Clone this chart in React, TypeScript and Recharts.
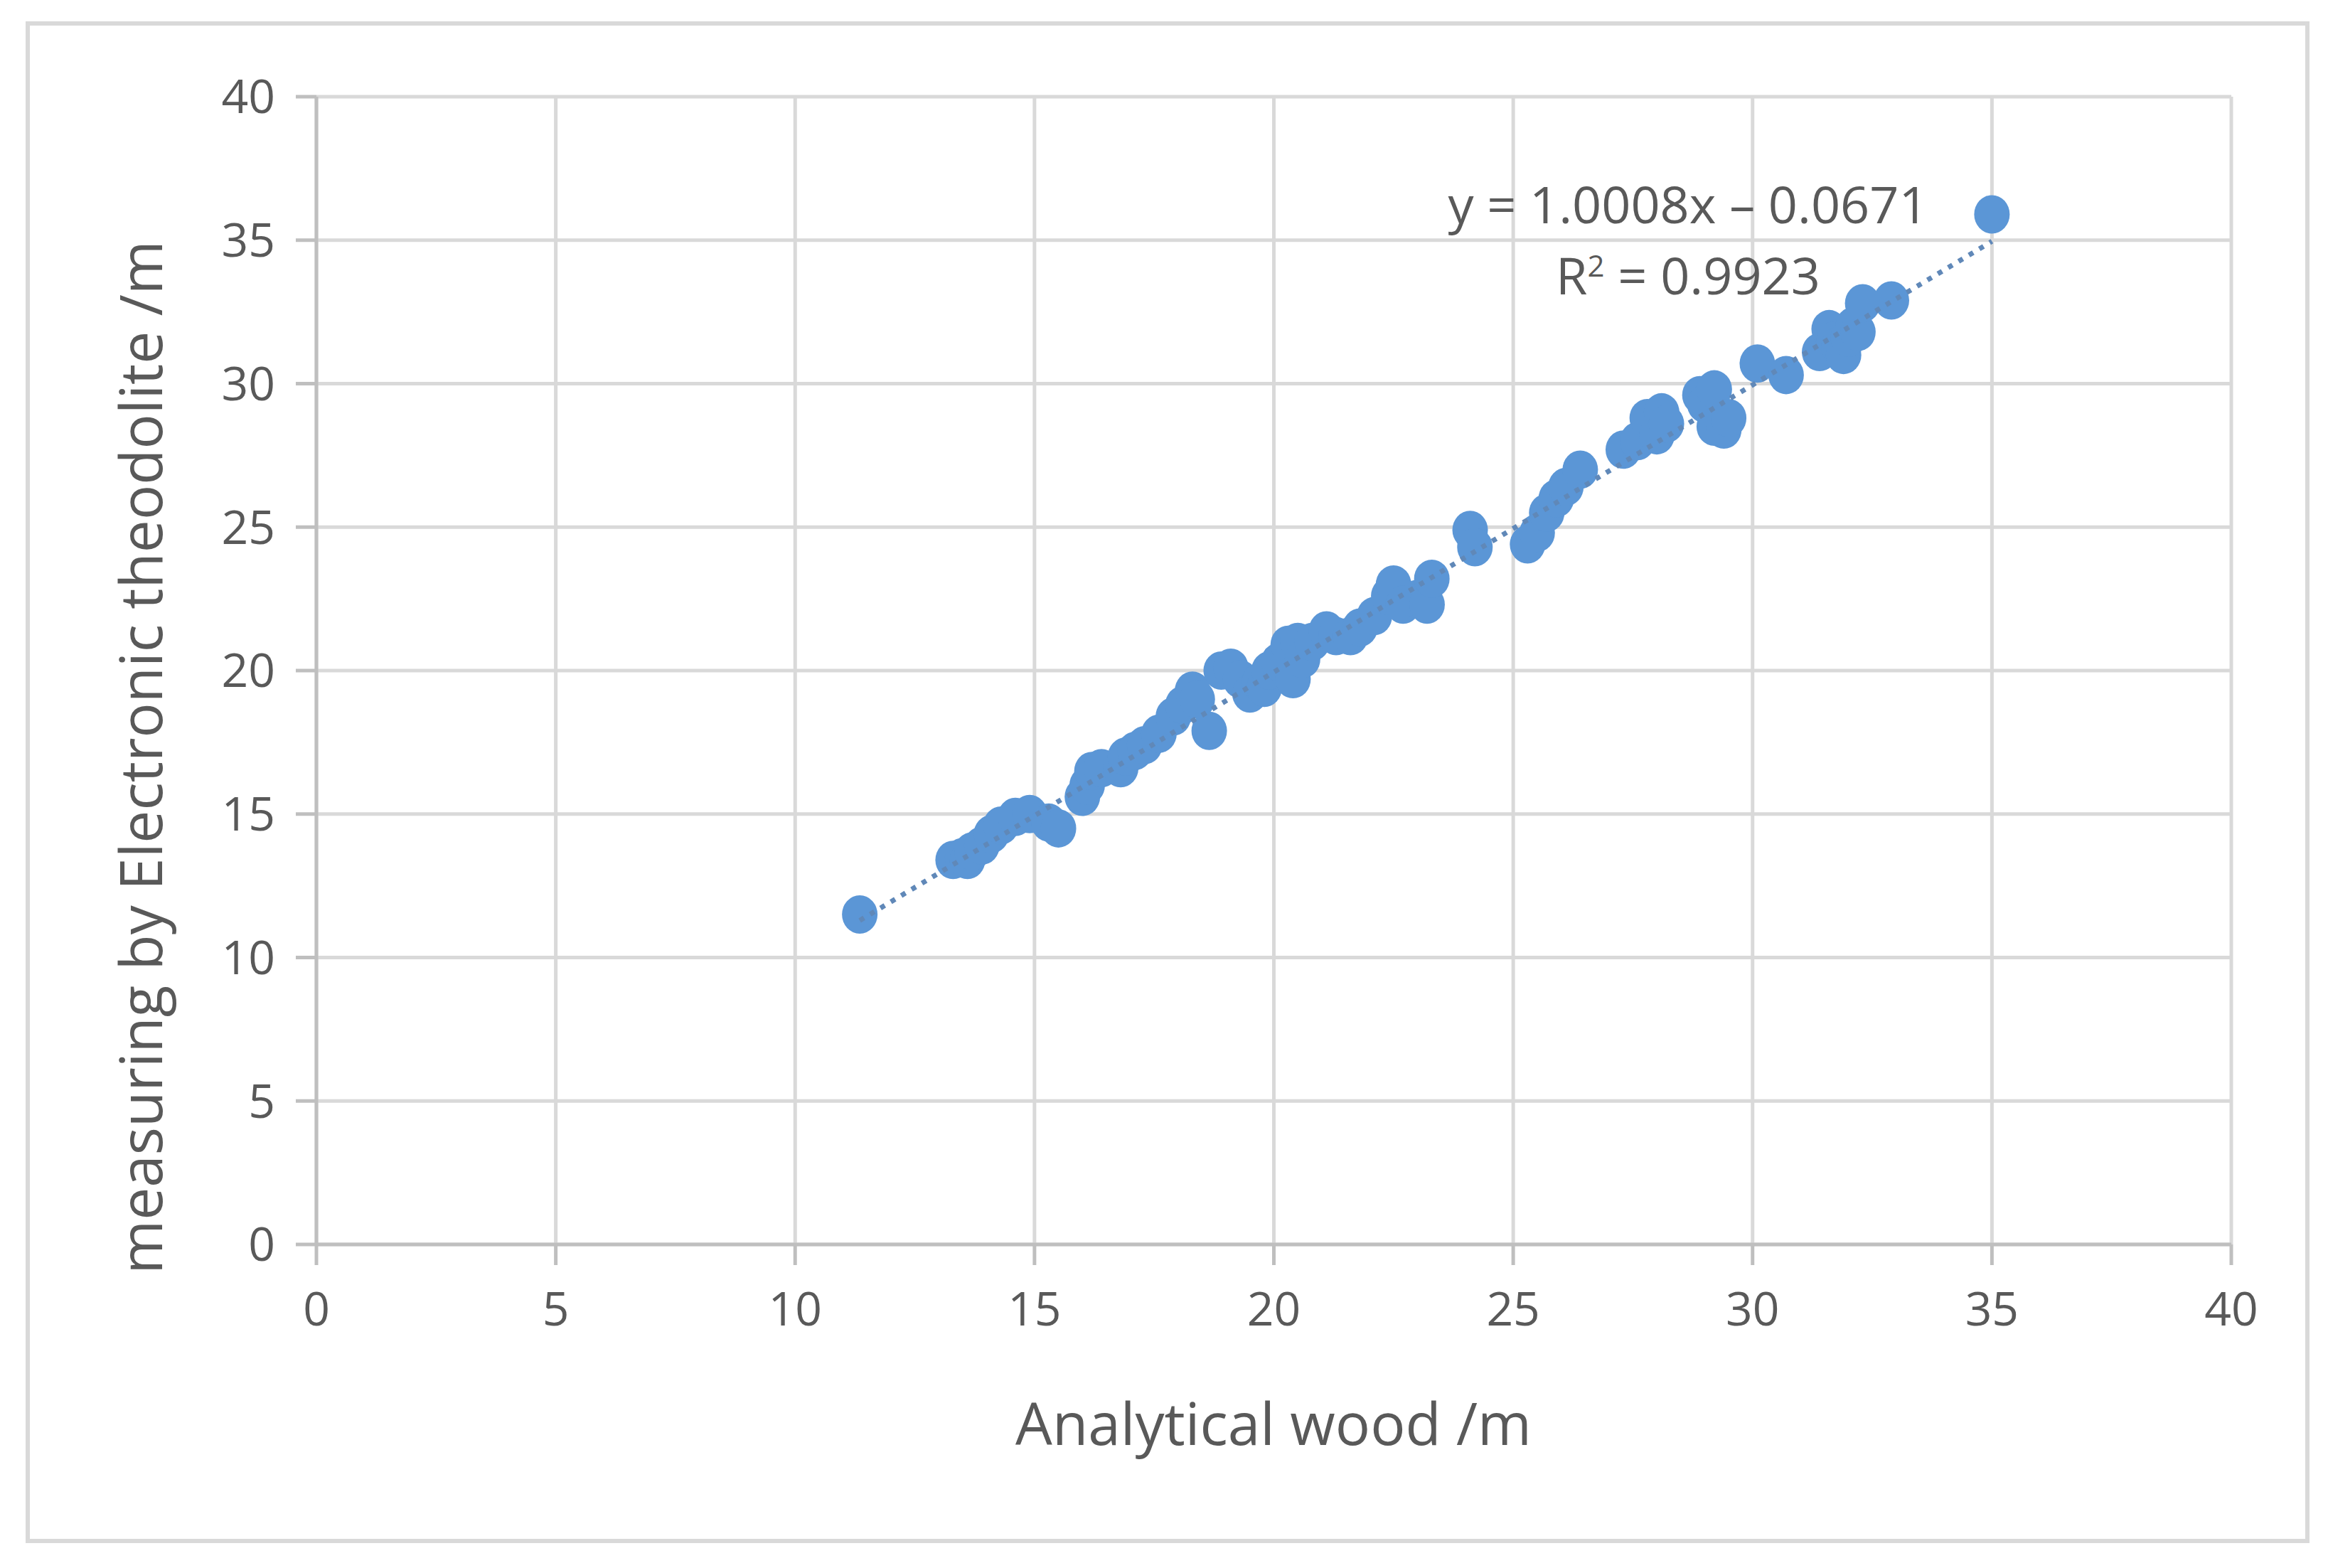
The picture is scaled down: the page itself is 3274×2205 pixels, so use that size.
import React from 'react';
import { ScatterChart, Scatter, XAxis, YAxis, CartesianGrid } from 'recharts';

// analytical wood height (x) vs electronic theodolite height (y), metres
const woodX = [
  11.35, 13.3, 13.5, 13.6, 13.7, 13.9, 14.1, 14.3, 14.6, 14.9, 15.3, 15.5,
  16.0, 16.1, 16.2, 16.4, 16.8, 16.9, 17.1, 17.3, 17.6, 17.9, 18.1,
  18.3, 18.4, 18.65, 18.9, 19.1, 19.3, 19.5, 19.7, 19.8, 19.9, 20.1, 20.3,
  20.4, 20.5, 20.6, 20.8, 21.1, 21.3, 21.6, 21.8, 22.1, 22.4, 22.5, 22.7,
  23.0, 23.2, 23.3, 24.1, 24.2, 25.3, 25.5, 25.7, 25.9, 26.1, 26.4,
  27.3, 27.6, 27.8, 28.0, 28.1, 28.2, 28.9, 29.0, 29.2, 29.2, 29.4, 29.5,
  30.1, 30.7, 31.4, 31.6, 31.7, 31.8, 31.9, 32.0, 32.1, 32.2, 32.3, 32.9,
  35.0,
];
const theodoliteY = [
  11.5, 13.4, 13.5, 13.4, 13.7, 13.9, 14.3, 14.6, 14.9, 15.0, 14.7, 14.5,
  15.6, 16.0, 16.5, 16.6, 16.6, 17.0, 17.2, 17.4, 17.8, 18.4, 18.8,
  19.3, 19.0, 17.9, 20.0, 20.1, 19.7, 19.2, 19.6, 19.4, 20.0, 20.3, 20.9,
  19.7, 21.0, 20.4, 21.0, 21.4, 21.2, 21.2, 21.5, 21.9, 22.6, 23.0, 22.3,
  22.5, 22.3, 23.2, 24.9, 24.3, 24.4, 24.8, 25.5, 26.0, 26.4, 27.0,
  27.7, 28.0, 28.8, 28.2, 29.0, 28.6, 29.6, 29.3, 28.5, 29.8, 28.4, 28.8,
  30.7, 30.3, 31.1, 31.9, 31.5, 31.3, 31.0, 31.6, 32.0, 31.8, 32.8, 32.9,
  35.9,
];

// linear trendline end points (y = 1.0008x - 0.0671)
const trendX = [11.35, 35.0];
const trendY = [11.29, 34.96];

const axisTicks = [0, 5, 10, 15, 20, 25, 30, 35, 40];

const points = woodX.map((x, i) => ({ x, y: theodoliteY[i] }));
const trend = trendX.map((x, i) => ({ x, y: trendY[i] }));

const FONT = '"Open Sans", "Noto Sans", sans-serif';
const TEXT = '#595959';
const BLUE = '#5b96d6';

const Dot = (props: any) => <ellipse cx={props.cx} cy={props.cy} rx={25} ry={27} fill={BLUE} />;

const App: React.FC = () => {
  const tick = { fill: TEXT, fontSize: 66, fontFamily: FONT };
  const axisStroke = { stroke: '#bfbfbf', strokeWidth: 5 };

  return (
    <div style={{ position: 'absolute', left: 0, top: 0, width: 3274, height: 2205, background: '#fff', fontFamily: FONT }}>
      {/* outer chart border */}
      <div style={{ position: 'absolute', left: 36, top: 30, width: 3212, height: 2140, border: '6px solid #d9d9d9', boxSizing: 'border-box' }} />

      <ScatterChart width={3274} height={2205} margin={{ top: 136, right: 136, bottom: 355, left: 345 }} style={{ position: 'absolute', left: 0, top: 0 }}>
        <CartesianGrid stroke="#d9d9d9" strokeWidth={5} />
        <XAxis
          type="number"
          dataKey="x"
          domain={[0, 40]}
          ticks={axisTicks}
          height={100}
          tick={tick}
          tickSize={29}
          tickMargin={38}
          axisLine={axisStroke}
          tickLine={axisStroke}
          interval={0}
        />
        <YAxis
          type="number"
          dataKey="y"
          domain={[0, 40]}
          ticks={axisTicks}
          width={100}
          tick={tick}
          tickSize={29}
          tickMargin={29}
          axisLine={axisStroke}
          tickLine={axisStroke}
          interval={0}
        />
        <Scatter data={points} fill={BLUE} shape={Dot} isAnimationActive={false} />
        <Scatter
          data={trend}
          line={{ stroke: '#6088b8', strokeWidth: 7, strokeDasharray: '7 10' }}
          shape={() => <g />}
          isAnimationActive={false}
        />
      </ScatterChart>

      {/* trendline equation */}
      <div style={{ position: 'absolute', left: 2374, top: 286, transform: 'translate(-50%, -50%)', fontSize: 72, color: TEXT, whiteSpace: 'nowrap' }}>
        y = 1.0008x – 0.0671
      </div>
      <div style={{ position: 'absolute', left: 2374, top: 386, transform: 'translate(-50%, -50%)', fontSize: 72, color: TEXT, whiteSpace: 'nowrap' }}>
        R<sup style={{ fontSize: 42 }}>2</sup> = 0.9923
      </div>

      {/* axis titles */}
      <div style={{ position: 'absolute', left: 1791, top: 2000, transform: 'translate(-50%, -50%)', fontSize: 82, color: TEXT, whiteSpace: 'nowrap' }}>
        Analytical wood /m
      </div>
      <div style={{ position: 'absolute', left: 196, top: 1065, transform: 'translate(-50%, -50%) rotate(-90deg)', fontSize: 82, color: TEXT, whiteSpace: 'nowrap' }}>
        measuring by Electronic theodolite /m
      </div>
    </div>
  );
};

export default App;
